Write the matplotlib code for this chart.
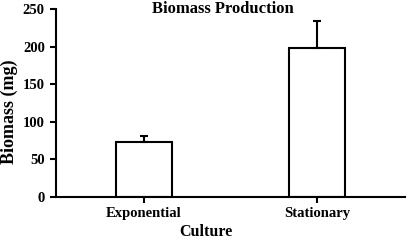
import numpy as np
import matplotlib.pyplot as plt

cultures = ['Exponential', 'Stationary']
biomass = [73, 198]
err = [8, 36]

plt.rcParams['font.family'] = ['Liberation Serif', 'DejaVu Serif']
plt.rcParams['font.weight'] = 'bold'

fig = plt.figure(figsize=(4.08, 2.41), dpi=100)
ax = fig.add_axes([0.137, 0.183, 0.856, 0.78])

x = np.arange(len(cultures))
ax.bar(x, biomass, width=0.32, color='white', edgecolor='black', linewidth=1.5,
       yerr=[np.zeros(len(err)), err], error_kw=dict(ecolor='black', elinewidth=1.5,
                                                    capsize=3, capthick=1.5))

ax.set_xlim(-0.51, 1.51)
ax.set_ylim(0, 250)
ax.set_yticks([0, 50, 100, 150, 200, 250])
ax.set_xticks(x)
ax.set_xticklabels(cultures)
for s in ['top', 'right']:
    ax.spines[s].set_visible(False)
for s in ['left', 'bottom']:
    ax.spines[s].set_linewidth(1.5)
ax.tick_params(axis='both', direction='out', width=1.5, length=4, labelsize=10.5)
ax.tick_params(axis='x', pad=3)
ax.tick_params(axis='y', pad=4)

# axis titles and chart title placed in figure coords
fig.text(206/408, 1-232/241, 'Culture', ha='center', va='center',
         fontsize=11.5, fontweight='bold')
fig.text(9.5/408, 1-111.5/241, 'Biomass (mg)', ha='center', va='center',
         rotation=90, fontsize=13, fontweight='bold')
fig.text(223/408, 1-9/241, 'Biomass Production', ha='center', va='center',
         fontsize=12, fontweight='bold')

fig.savefig('out.png', dpi=100)
